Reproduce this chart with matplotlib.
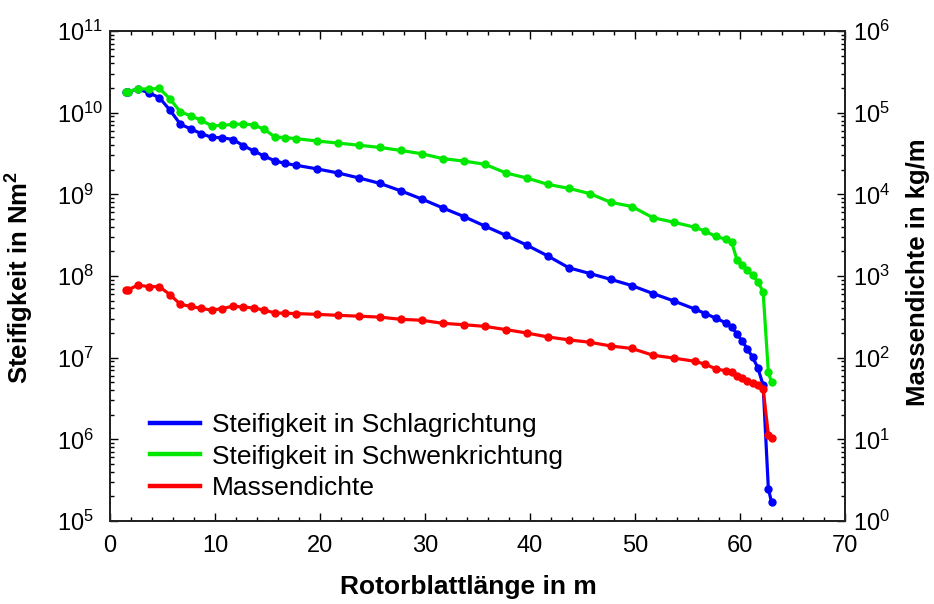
import numpy as np
import matplotlib
matplotlib.use("Agg")
import matplotlib.pyplot as plt
from matplotlib.ticker import LogLocator, MultipleLocator, NullFormatter

plt.rcParams['font.family'] = ['Liberation Sans', 'DejaVu Sans']
plt.rcParams['mathtext.fontset'] = 'custom'
plt.rcParams['mathtext.rm'] = 'Liberation Sans'
plt.rcParams['mathtext.it'] = 'Liberation Sans:italic'
plt.rcParams['mathtext.bf'] = 'Liberation Sans:bold'

# radial position along the blade (m)
laenge = [1.5, 1.7, 2.7, 3.7, 4.7, 5.7, 6.7, 7.7, 8.7, 9.7, 10.7, 11.7, 12.7,
          13.7, 14.7, 15.7, 16.7, 17.7, 19.7, 21.7, 23.7, 25.7, 27.7, 29.7,
          31.7, 33.7, 35.7, 37.7, 39.7, 41.7, 43.7, 45.7, 47.7, 49.7, 51.7,
          53.7, 55.7, 56.7, 57.7, 58.7, 59.2, 59.7, 60.2, 60.7, 61.2, 61.7,
          62.2, 62.7, 63.0]

# flap stiffness (1e6 Nm^2)
schlag = [18110.0, 18110.0, 19424.9, 17455.9, 15287.4, 10782.4, 7229.72,
          6309.54, 5528.36, 4980.06, 4936.84, 4691.66, 3949.46, 3386.52,
          2933.74, 2568.96, 2388.65, 2271.99, 2050.05, 1828.25, 1588.71,
          1361.93, 1102.38, 875.80, 681.30, 534.72, 408.90, 314.54, 238.63,
          175.88, 126.01, 107.26, 90.88, 76.31, 61.05, 49.48, 39.36, 34.67,
          30.41, 26.52, 23.84, 19.63, 16.00, 12.83, 10.08, 7.55, 4.60, 0.25,
          0.17]

# edge stiffness (1e6 Nm^2)
schwenk = [18113.6, 18113.6, 19558.6, 19497.8, 19788.8, 14858.5, 10220.6,
           9144.7, 8063.16, 6884.44, 7009.18, 7167.68, 7271.66, 7081.70,
           6244.53, 5048.96, 4948.49, 4808.02, 4501.40, 4244.07, 3995.28,
           3750.76, 3447.14, 3139.07, 2734.24, 2554.87, 2334.03, 1828.73,
           1584.10, 1323.36, 1183.68, 1020.16, 797.81, 709.61, 518.19, 454.87,
           395.12, 353.72, 304.73, 281.42, 261.71, 158.81, 137.88, 118.79,
           101.63, 85.07, 64.26, 6.61, 5.01]

# mass per length (kg/m)
masse = [678.935, 678.935, 773.363, 740.550, 740.042, 592.496, 450.275,
         424.054, 400.638, 382.062, 399.655, 426.321, 416.820, 406.186,
         381.420, 352.822, 349.477, 346.538, 339.333, 330.004, 321.990,
         313.820, 294.734, 287.120, 263.343, 253.207, 241.666, 220.638,
         200.293, 179.404, 165.094, 154.411, 138.935, 129.555, 107.264,
         98.776, 90.248, 83.001, 72.906, 68.772, 66.264, 59.340, 55.914,
         52.484, 49.114, 45.818, 41.669, 11.453, 10.319]

legende = ['Steifigkeit in Schlagrichtung', 'Steifigkeit in Schwenkrichtung',
           'Massendichte']

W, H = 934, 604
x = np.array(laenge)
fig = plt.figure(figsize=(W / 100, H / 100), dpi=100)
# axes box in pixels: left 110, right 845, top 31, bottom 521
ax = fig.add_axes([110 / W, 1 - 521 / H, 735 / W, 490 / H])
ax2 = ax.twinx()

lw, ms = 2.3, 5
l1, = ax.plot(x, np.array(schlag) * 1e6, '-o', color='#0000ff', lw=lw, ms=ms)
l2, = ax.plot(x, np.array(schwenk) * 1e6, '-o', color='#00e800', lw=lw, ms=ms)
l3, = ax2.plot(x, masse, '-o', color='#ff0000', lw=lw, ms=ms)

ax.set_yscale('log')
ax2.set_yscale('log')
ax.set_xlim(0, 70)

ax.xaxis.set_major_locator(MultipleLocator(10))
ax.xaxis.set_minor_locator(MultipleLocator(2))
ax.set_yticks([10.0 ** k for k in range(5, 12)])
ax2.set_yticks([10.0 ** k for k in range(0, 7)])
for a in (ax, ax2):
    a.yaxis.set_minor_locator(LogLocator(base=10, subs=np.arange(2, 10), numticks=12))
    a.yaxis.set_minor_formatter(NullFormatter())
ax.set_ylim(1e5, 1e11)
ax2.set_ylim(1e0, 1e6)

ax.tick_params(axis='both', which='both', direction='in', labelsize=17,
               top=True, right=False)
ax.tick_params(which='major', length=5.5, width=1)
ax.tick_params(which='minor', length=3, width=1)
ax.tick_params(axis='x', pad=10)
# left tick labels are left-aligned at about x = 57 px
ax.tick_params(axis='y', pad=53 * 0.72)
for lab in ax.get_yticklabels():
    lab.set_horizontalalignment('left')
ax2.tick_params(axis='y', which='both', direction='in', labelsize=17, pad=6)
ax2.tick_params(which='major', length=5.5, width=1)
ax2.tick_params(which='minor', length=3, width=1)

for a in (ax, ax2):
    for s in a.spines.values():
        s.set_linewidth(1.3)
        s.set_color('#222222')

fig.text(468 / W, 1 - 587 / H, 'Rotorblattlänge in m', fontsize=19,
         fontweight='bold', ha='center', va='center')
fig.text(20 / W, 1 - 277 / H, 'Steifigkeit in Nm$^\\mathbf{2}$', fontsize=18.5,
         fontweight='bold', ha='center', va='center', rotation=90)
fig.text(918 / W, 1 - 272 / H, 'Massendichte in kg/m', fontsize=18.5,
         fontweight='bold', ha='center', va='center', rotation=90)

leg = ax.legend([l1, l2, l3], legende,
                loc='upper left', bbox_to_anchor=((150 - 110) / 735, (521 - 413) / 490),
                frameon=False, fontsize=19, handlelength=1.9, handletextpad=0.45,
                labelspacing=0.29, borderpad=0, borderaxespad=0)
for h in leg.legend_handles:
    h.set_linewidth(3.2)
    h.set_marker('')

fig.savefig('out.png', dpi=100)
